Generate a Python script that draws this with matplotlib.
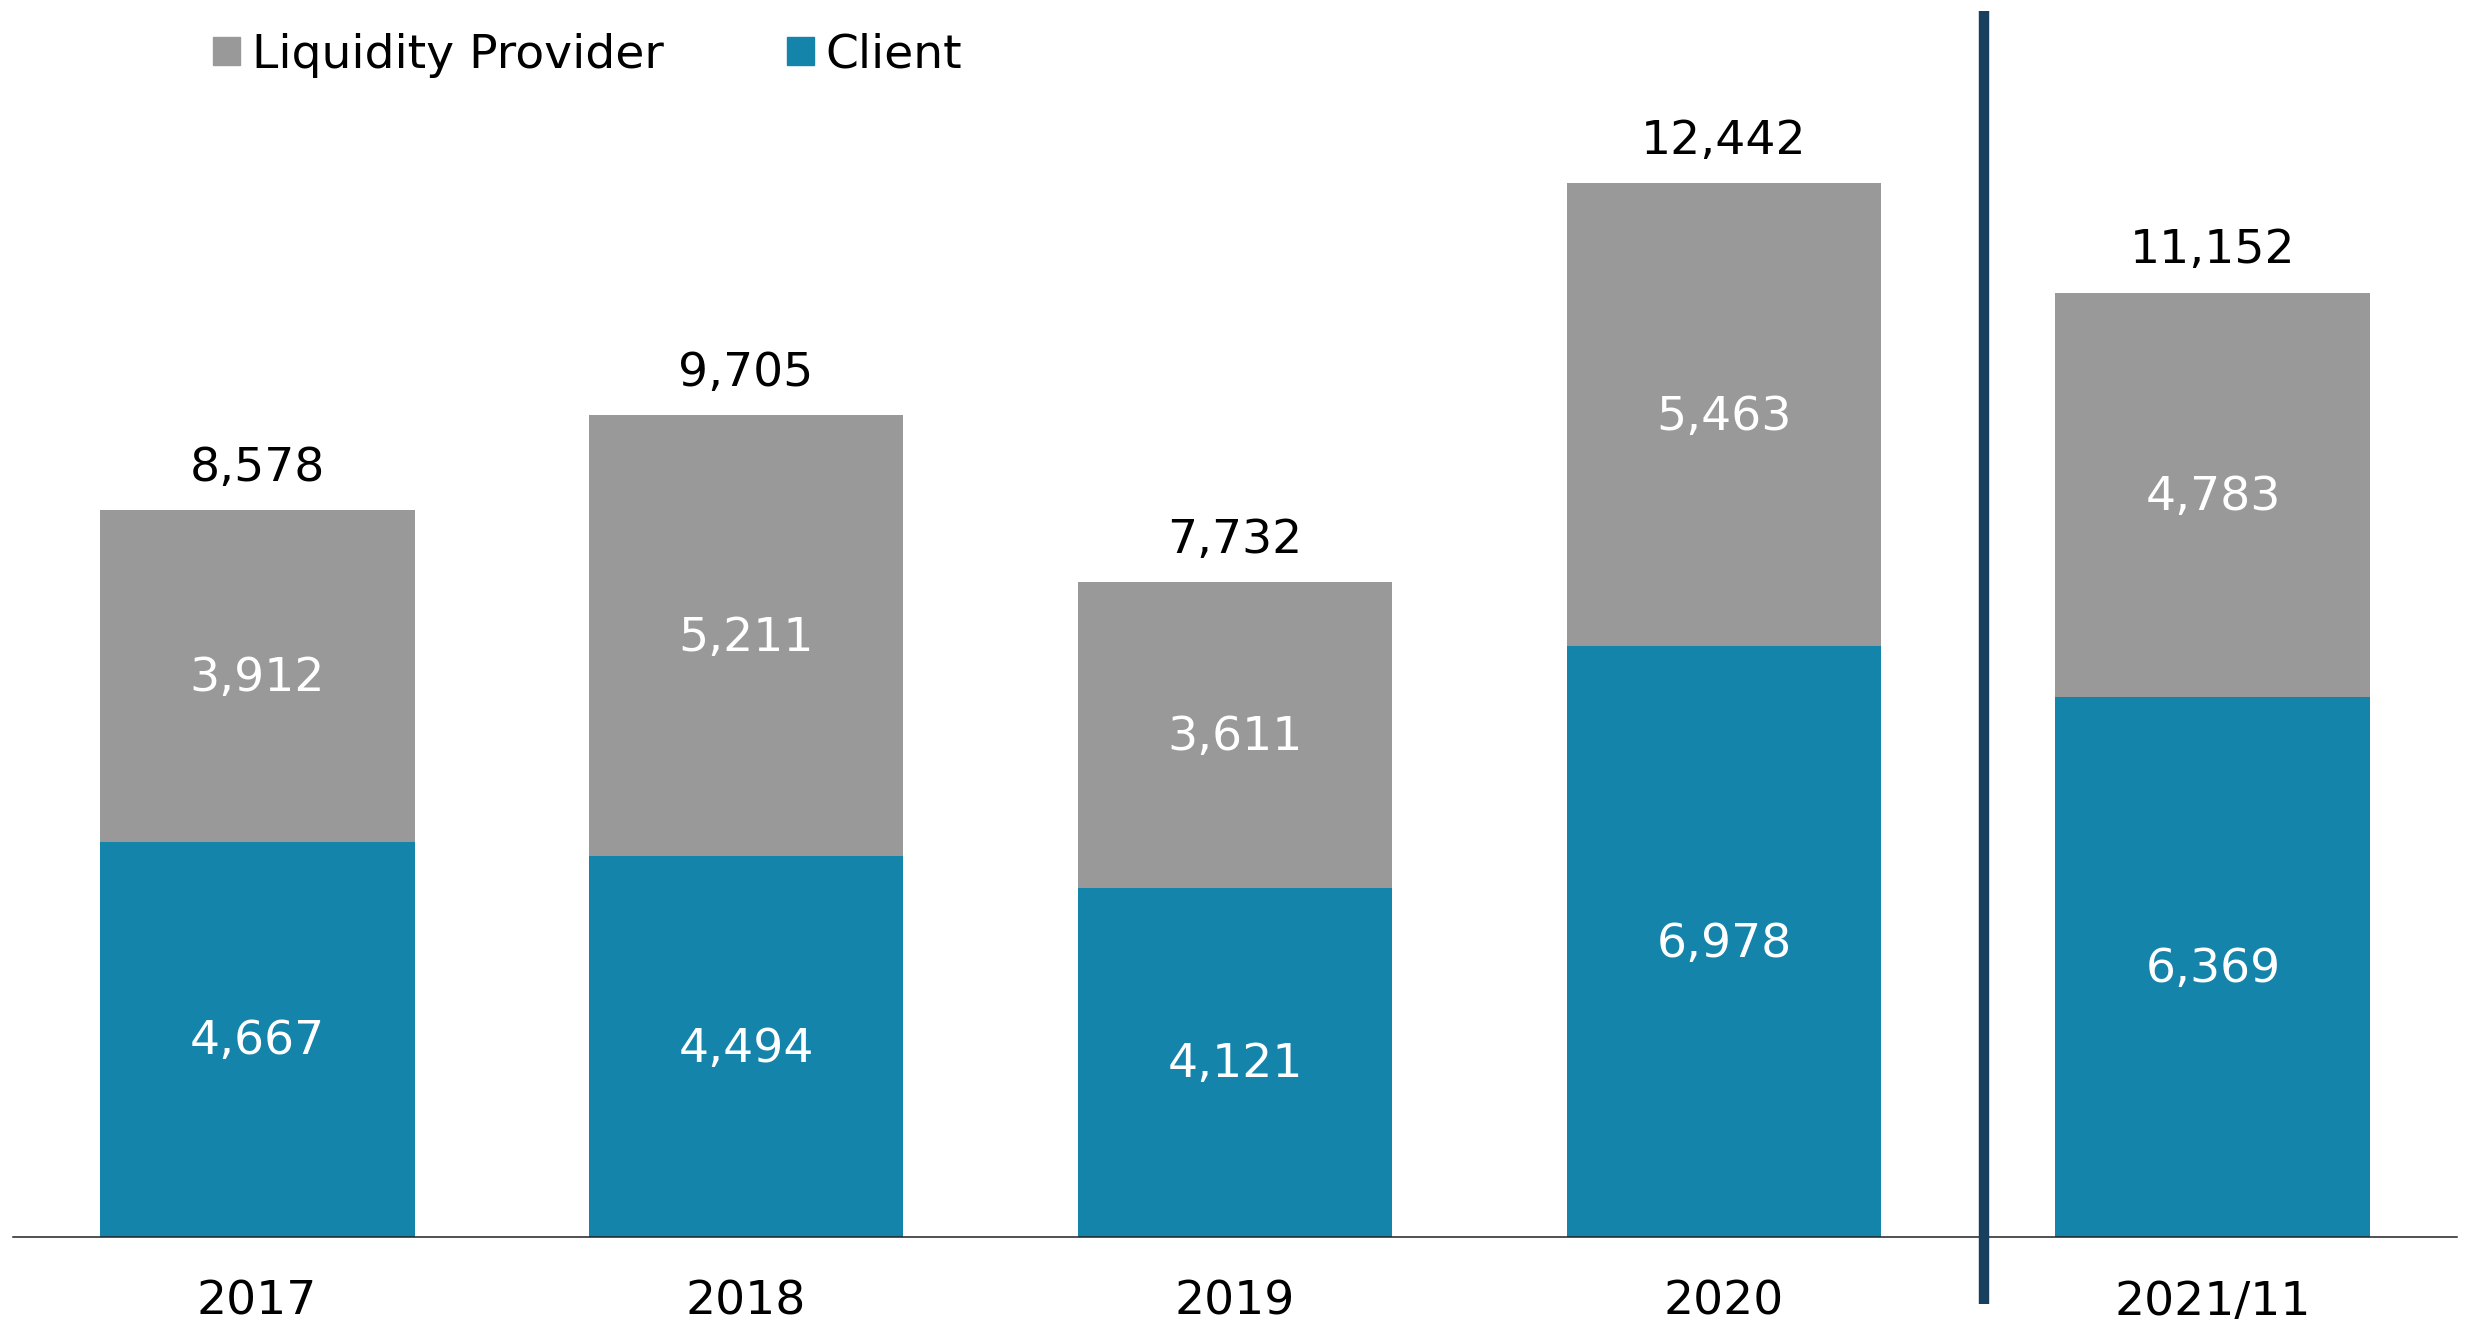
import numpy as np
import matplotlib
matplotlib.use("Agg")
import matplotlib.pyplot as plt
from matplotlib.patches import Patch

# --------------------------------------------------------------------------- #
#  Data                                                                        #
# --------------------------------------------------------------------------- #

categories = ["2017", "2018", "2019", "2020", "2021/11"]
client     = [4667, 4494, 4121, 6978, 6369]
lp         = [3912, 5211, 3611, 5463, 4783]
totals     = [8578, 9705, 7732, 12442, 11152]

C_CLIENT  = "#1584AB"
C_LP      = "#999999"
C_DIVIDER = "#183F5E"
FS = 34

# --------------------------------------------------------------------------- #
#  Figure                                                                      #
# --------------------------------------------------------------------------- #

fig = plt.figure(figsize=(24.7, 13.27), dpi=100)
ax = fig.add_axes([0.0051, 0.0681, 0.9898, 0.9319])

x = np.arange(len(categories))
w = 0.644

ax.bar(x, client, w, color=C_CLIENT, label="Client")
ax.bar(x, lp, w, bottom=client, color=C_LP, label="Liquidity Provider")

for xi, c, l, t in zip(x, client, lp, totals):
    ax.annotate(f"{c:,}", (xi, c / 2), xytext=(0, -2),
                textcoords="offset points", ha="center", va="center",
                color="white", fontsize=FS)
    ax.annotate(f"{l:,}", (xi, c + l / 2), xytext=(0, -2),
                textcoords="offset points", ha="center", va="center",
                color="white", fontsize=FS)
    ax.annotate(f"{t:,}", (xi, c + l), xytext=(0, 30),
                textcoords="offset points", ha="center", va="center",
                fontsize=FS, color="black")

# divider between full years and YTD
ax.plot([3.532, 3.532], [-800, 14480], color=C_DIVIDER, lw=7.5,
        solid_capstyle="butt", clip_on=False, zorder=5)

ax.set_xlim(-0.5, 4.5)
ax.set_ylim(0, 14607)
ax.set_xticks(x)
ax.set_xticklabels(categories, fontsize=FS)
ax.tick_params(axis="x", length=0, pad=31)
ax.set_yticks([])
for s in ["top", "left", "right"]:
    ax.spines[s].set_visible(False)
ax.spines["bottom"].set_linewidth(1.1)
ax.spines["bottom"].set_color("#222222")

handles = [Patch(color=C_LP, label="Liquidity Provider"),
           Patch(color=C_CLIENT, label="Client")]
fig.legend(handles=handles, loc="center left", bbox_to_anchor=(0.0861, 0.9585),
           ncol=2, frameon=False, fontsize=FS, borderpad=0, borderaxespad=0,
           handlelength=0.58, handleheight=0.53, handletextpad=0.25,
           columnspacing=2.6)

fig.savefig("out.png", dpi=100)
